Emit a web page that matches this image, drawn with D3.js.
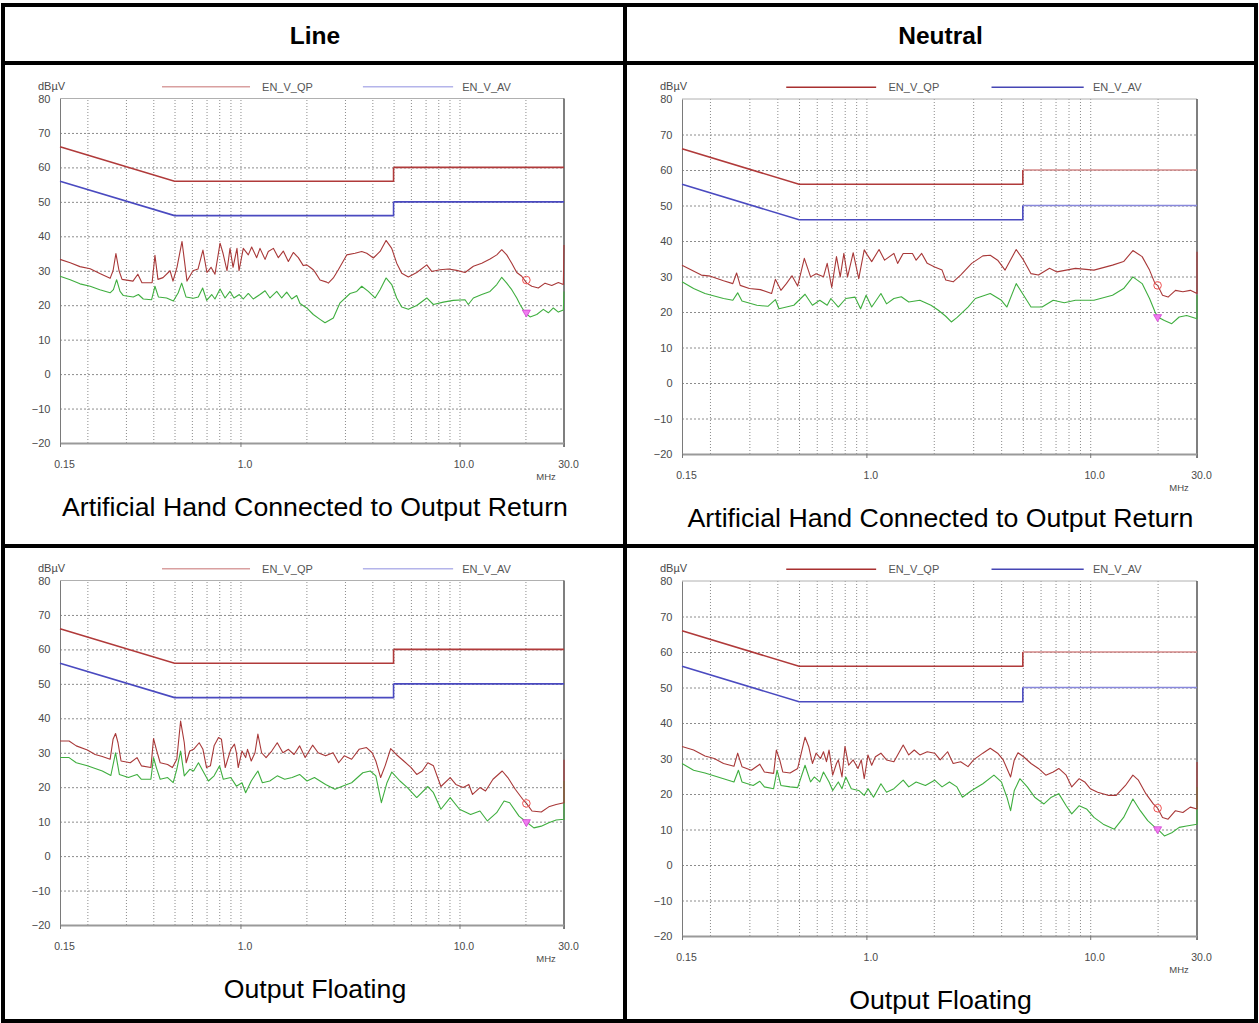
<!DOCTYPE html>
<html>
<head>
<meta charset="utf-8">
<script src="https://cdn.jsdelivr.net/npm/d3@7"></script>
<style>
  body { margin: 0; background: #fff; }
  svg { display: block; }
</style>
</head>
<body>
<svg id="chart" width="1259" height="1023"></svg>
<script>
// ---- column / row text ----
const columnTitles = ["Line", "Neutral"];
const captions = [
  "Artificial Hand Connected to Output Return",
  "Artificial Hand Connected to Output Return",
  "Output Floating",
  "Output Floating"
];
const legendNames = ["EN_V_QP", "EN_V_AV"];
const yUnit = "dBµV";
const xUnit = "MHz";

// ---- axes ----
const freqTicks = [0.15, 1.0, 10.0, 30.0];
const freqTickLabels = ["0.15", "1.0", "10.0", "30.0"];
const freqGrid = [0.2, 0.3, 0.4, 0.5, 0.6, 0.7, 0.8, 0.9, 1, 2, 3, 4, 5, 6, 7, 8, 9, 10, 20];
const levelTicks = [80, 70, 60, 50, 40, 30, 20, 10, 0, -10, -20];
const levelGrid = [70, 60, 50, 40, 30, 20, 10, 0, -10];

// ---- EN 55022 class B limits [MHz, dBµV] ----
const limitQP = [[0.15, 66], [0.5, 56], [5, 56], [5, 60], [30, 60]];
const limitAV = [[0.15, 56], [0.5, 46], [5, 46], [5, 50], [30, 50]];

// ---- Line, artificial hand to output return ----
const lineHandQP = [[0.150,33.3],[0.167,32.3],[0.185,31.2],[0.206,30.6],[0.228,29.2],[0.254,27.8],[0.262,30],[0.270,35],[0.279,30],[0.288,27.5],[0.323,27],[0.340,29],[0.355,26.5],[0.395,26.5],[0.407,34.5],[0.420,27.5],[0.443,28],[0.477,30],[0.492,27],[0.513,31],[0.541,38.5],[0.570,27],[0.607,30],[0.640,30.5],[0.674,36],[0.703,29.5],[0.734,31],[0.765,29],[0.807,38],[0.833,35],[0.868,30],[0.896,36.5],[0.925,31],[0.964,36.5],[0.985,30],[1.030,36.5],[1.086,34.6],[1.125,36.9],[1.186,33.8],[1.228,36.5],[1.295,33.3],[1.340,35.6],[1.413,36.5],[1.489,33.8],[1.569,35.7],[1.654,32.7],[1.743,35.3],[1.837,33.8],[1.936,31.5],[2.007,31.7],[2.078,31],[2.150,30.3],[2.190,29.6],[2.308,27.3],[2.476,26.7],[2.518,26.4],[2.655,27.9],[2.798,30.3],[3.056,34.6],[3.334,35.1],[3.578,35.6],[3.771,35.1],[4.043,33.7],[4.34,35.6],[4.62,38.8],[4.904,36.5],[5.168,32.2],[5.449,29.3],[5.841,28.2],[6.38,29.5],[7.09,31.7],[7.47,29.8],[8.15,30.3],[8.90,30.5],[9.71,30.1],[10.6,29.5],[11.57,31.3],[12.64,32.2],[13.79,33.4],[14.80,34.6],[15.59,36.1],[16.43,34.6],[17.32,32.2],[18.26,29.5],[19.24,28.4],[20.28,26.4],[21.38,25.5],[22.9,25],[24.58,26.4],[26.37,25.7],[28.27,26.6],[29.8,26],[30,37.5]];
const lineHandAV = [[0.150,28.4],[0.167,27.4],[0.185,26.2],[0.206,25.5],[0.228,24.5],[0.254,23.6],[0.263,24.5],[0.272,27.4],[0.282,24],[0.292,22.8],[0.324,22.4],[0.342,23.1],[0.360,21.8],[0.393,21.6],[0.407,25.5],[0.422,22.4],[0.460,22.1],[0.494,21.2],[0.520,23.6],[0.539,26.4],[0.564,22.4],[0.609,22],[0.642,22.4],[0.672,25],[0.701,21.4],[0.739,23.1],[0.765,21.8],[0.807,24.7],[0.850,22.1],[0.896,24],[0.934,22.1],[0.988,23.1],[1.030,21.8],[1.086,23.4],[1.144,21.8],[1.228,23.1],[1.295,24.2],[1.364,22.1],[1.464,24],[1.543,22.1],[1.626,23.8],[1.714,21.8],[1.806,22.8],[1.870,20.5],[2.007,19.2],[2.150,17.3],[2.308,15.9],[2.432,14.9],[2.655,16.3],[2.849,20.7],[3.165,23.4],[3.395,24],[3.578,25.5],[3.835,24],[4.116,22.1],[4.34,24.5],[4.62,27.9],[4.904,26],[5.168,22.1],[5.449,19.5],[5.841,18.8],[6.38,19.9],[7.09,22.1],[7.60,20.2],[8.44,20.9],[9.37,21.4],[10.6,21.6],[10.97,20.2],[11.57,22.1],[12.64,23.1],[13.79,24],[14.80,26],[15.59,28.1],[16.43,26.4],[17.32,24.5],[18.26,22.1],[18.9,20.2],[19.92,17.8],[21.0,16.6],[22.53,17.3],[24.14,18.8],[25.45,17.8],[26.82,19.2],[28.27,18],[29.8,18.6],[30,24]];

// ---- Neutral, artificial hand to output return ----
const neutralHandQP = [[0.150,33.2],[0.183,30.4],[0.201,30.1],[0.230,28.8],[0.253,28],[0.263,31],[0.273,27.5],[0.300,26.6],[0.336,26.3],[0.377,25.2],[0.392,29.2],[0.415,26.1],[0.439,28],[0.465,30.2],[0.493,27.3],[0.528,35.1],[0.563,29.9],[0.596,30.8],[0.643,29.9],[0.668,33.7],[0.700,26.9],[0.735,35.6],[0.764,29.9],[0.793,36.5],[0.824,29.9],[0.873,36.7],[0.924,29.4],[0.978,37.5],[1.009,36.1],[1.056,34.2],[1.139,37.6],[1.206,34.6],[1.327,36.5],[1.379,33.7],[1.460,36.5],[1.606,36.5],[1.668,34.6],[1.766,36.5],[1.870,33.7],[2.018,32.7],[2.178,31.8],[2.262,29],[2.442,28.5],[2.636,30.4],[2.954,33.7],[3.313,35.8],[3.575,36],[3.858,34.6],[4.165,31.8],[4.670,37.6],[5.039,34.6],[5.438,30.8],[5.869,30.4],[6.58,32.3],[7.10,31.3],[8.59,32.3],[10.39,31.8],[12.58,33.2],[14.10,34.2],[15.51,37.3],[17.06,35.6],[18.41,31.8],[19.49,28],[20.02,27.5],[21.04,24.7],[22.28,24.2],[24.04,26.1],[25.95,25.7],[28.01,26.1],[30.0,25.2],[30,37]];
const neutralHandAV = [[0.150,28.5],[0.169,26.6],[0.190,25.2],[0.230,23.8],[0.253,23.3],[0.266,25.4],[0.278,23.1],[0.324,21.9],[0.363,21.6],[0.392,23.5],[0.407,20.9],[0.474,21.9],[0.532,25],[0.574,21.9],[0.619,23.3],[0.668,21.9],[0.694,23.8],[0.749,21.4],[0.809,23.8],[0.889,24.2],[0.942,20.9],[0.997,24.7],[1.056,21.4],[1.161,25.2],[1.230,22.3],[1.327,23.8],[1.432,24.3],[1.546,22.8],[1.733,23.3],[1.943,21.9],[2.097,20.5],[2.262,18.8],[2.396,17.2],[2.537,18.4],[2.844,21.4],[3.069,23.8],[3.575,25.2],[4.009,23.3],[4.245,21.4],[4.670,28],[5.039,24.7],[5.438,21.4],[6.095,21.4],[6.834,23.3],[7.66,22.6],[8.59,23.3],[10.39,23.3],[12.58,24.7],[14.10,26.6],[15.51,29.9],[17.06,28],[18.41,23.8],[19.49,20],[20.02,18.6],[21.45,17.6],[23.14,16.7],[24.98,18.6],[26.96,19],[30.0,18.1],[30,24.7]];

// ---- Line, output floating ----
const lineFloatQP = [[0.150,33.4],[0.165,33.4],[0.178,32],[0.200,30.8],[0.217,29.5],[0.234,28.9],[0.254,28.1],[0.262,33.9],[0.269,35.6],[0.276,32.9],[0.285,27.6],[0.314,27.1],[0.337,28.6],[0.353,26.2],[0.390,25.7],[0.401,34.1],[0.413,31],[0.430,27.1],[0.465,26.6],[0.489,25.7],[0.512,28.1],[0.533,39.2],[0.554,32.9],[0.565,27.1],[0.587,30.5],[0.611,31],[0.648,32.9],[0.674,31],[0.700,25.7],[0.729,26.2],[0.758,32],[0.794,34.4],[0.819,33.9],[0.852,25.7],[0.903,31],[0.939,32.5],[0.958,30],[0.977,25.7],[1.016,30.5],[1.056,28.6],[1.077,31],[1.120,27.6],[1.165,30],[1.201,35.4],[1.249,30],[1.309,28.6],[1.389,30.5],[1.472,32.9],[1.562,30],[1.656,31],[1.756,29.5],[1.862,32],[1.974,28.6],[2.135,32.2],[2.263,30],[2.447,29.1],[2.647,30],[2.807,27.1],[2.976,29.1],[3.218,28.1],[3.479,31],[3.763,31.5],[3.990,30],[4.150,27.6],[4.365,22.8],[4.575,26.2],[4.851,31.2],[5.143,29.5],[5.564,27.6],[6.016,25.7],[6.378,23.7],[6.763,24.7],[7.172,27.1],[7.605,26.2],[8.225,20.2],[9.07,22.8],[9.62,20.8],[10.40,19.9],[11.03,20.8],[11.47,17.9],[12.40,19.9],[13.15,18.9],[14.22,22.3],[15.67,24.7],[16.62,22.8],[17.97,19.4],[19.44,16.5],[20.21,15.3],[21.43,13.1],[23.63,12.8],[25.56,14.3],[27.63,15],[30.0,15.5],[30,28]];
const lineFloatAV = [[0.150,28.6],[0.165,28.6],[0.178,27.1],[0.200,26.2],[0.234,24.7],[0.256,23.4],[0.269,30],[0.280,23.7],[0.308,22.8],[0.337,23.7],[0.353,22.3],[0.390,22.3],[0.401,28.6],[0.413,25.7],[0.430,22.3],[0.465,22.8],[0.493,21.3],[0.512,25.2],[0.533,30.5],[0.554,23.3],[0.587,25.2],[0.611,24.7],[0.643,27.1],[0.674,24.7],[0.714,21.8],[0.758,23.3],[0.803,26.2],[0.835,22.3],[0.903,22.8],[0.958,20.3],[1.016,21.3],[1.056,18.4],[1.120,21.8],[1.201,24.7],[1.259,21.3],[1.361,21.8],[1.472,23.3],[1.592,22.3],[1.722,22.8],[1.862,23.7],[2.013,21.8],[2.177,22.8],[2.447,20.8],[2.700,19.4],[2.976,20.5],[3.218,21.3],[3.619,24.2],[3.914,24.7],[4.150,23.3],[4.399,15.5],[4.666,21.3],[4.908,24.4],[5.350,21.8],[5.785,19.9],[6.378,17],[7.172,20.2],[7.605,18.4],[8.225,13.6],[9.07,17],[10.0,13.6],[11.24,12.1],[12.40,13.1],[13.41,10.2],[14.78,12.6],[15.98,16],[16.95,15.5],[18.69,11.6],[20.21,9.9],[21.85,8.2],[23.63,8.7],[25.56,9.7],[27.63,10.5],[30.0,10.7],[30,21.8]];

// ---- Neutral, output floating ----
const neutralFloatQP = [[0.150,33.4],[0.169,32.4],[0.190,30.7],[0.209,30],[0.230,28.6],[0.256,27.8],[0.266,31.5],[0.278,27.7],[0.306,26.7],[0.334,28.4],[0.350,26.2],[0.385,25.8],[0.396,32.4],[0.410,29.6],[0.423,26.2],[0.456,25.9],[0.493,27.2],[0.532,36],[0.552,33.4],[0.574,28.6],[0.596,31.5],[0.624,30],[0.643,31.9],[0.663,29.1],[0.681,32.4],[0.707,25.3],[0.735,28.6],[0.749,29.6],[0.778,24.8],[0.802,33.4],[0.833,28.1],[0.873,29.6],[0.917,27.2],[0.949,29.6],[0.978,24.3],[1.016,31],[1.056,28.1],[1.097,30.5],[1.161,31.5],[1.230,29.6],[1.327,29.1],[1.460,33.8],[1.546,31],[1.636,32.4],[1.733,31],[1.870,31.9],[2.018,31.5],[2.137,29.6],[2.306,31.9],[2.442,28.6],[2.636,29.1],[2.844,27.7],[3.011,29.6],[3.313,31.5],[3.575,32.9],[3.858,31.5],[4.086,29.6],[4.409,24.8],[4.580,29.6],[4.757,31.6],[5.039,30.5],[5.438,28.6],[5.869,27.2],[6.333,25.3],[6.834,26.2],[7.236,27.2],[7.81,25.3],[8.27,22],[8.93,24.3],[9.45,23.4],[10.0,21.5],[10.8,20.5],[12.11,19.6],[13.07,19.6],[14.37,22.4],[15.51,25.3],[16.42,23.9],[17.73,20.1],[19.13,17.2],[20.02,16],[21.04,13.4],[22.28,12.9],[24.04,15.3],[25.95,14.8],[28.01,16.3],[30.0,15.8],[30,29]];
const neutralFloatAV = [[0.150,28.6],[0.169,26.7],[0.190,25.9],[0.230,24.3],[0.256,23.4],[0.268,26.7],[0.278,23.4],[0.312,22.4],[0.334,23.6],[0.350,22],[0.385,21.5],[0.399,26.7],[0.415,22.4],[0.456,22],[0.493,21.8],[0.532,28.1],[0.563,23.4],[0.585,24.8],[0.619,23.4],[0.643,26.2],[0.681,23.4],[0.707,21],[0.749,23.4],[0.778,21.5],[0.809,24.8],[0.856,21.5],[0.924,21],[0.978,19.6],[1.016,21.5],[1.076,19.1],[1.161,22.9],[1.230,20.5],[1.327,21.5],[1.460,23.9],[1.546,22],[1.668,23.4],[1.835,22.4],[2.018,23.9],[2.178,22],[2.350,23.4],[2.537,22],[2.686,19.1],[2.954,21],[3.313,22.9],[3.714,25.3],[4.009,23.4],[4.245,19.1],[4.409,15.3],[4.580,21],[4.849,24.3],[5.234,22],[5.648,19.1],[6.214,17.2],[6.704,19.1],[7.236,20.1],[7.81,16.7],[8.27,14.4],[8.93,16.7],[9.63,15.8],[10.39,13.4],[11.43,11.5],[12.82,10.1],[14.10,13.4],[15.51,18.6],[16.74,15.3],[18.07,12.5],[19.49,10.6],[20.02,10.1],[21.45,8.2],[23.14,9.1],[24.98,10.6],[26.96,11],[30.0,11.5],[30,22]];

// ---- final markers [MHz, dBµV] ----
const markerQP = [[20.2, 27.3], [20.0, 27.5], [20.2, 15.3], [20.0, 16.0]];
const markerAV = [[20.2, 17.9], [20.0, 18.6], [20.2, 9.9], [20.0, 10.1]];

// ---- page layout ----
const svg = d3.select("#chart");
const FONT = "'Liberation Sans', Arial, Helvetica, sans-serif";

const panels = [
  { x0: 60,  x1: 564,  y0: 98.5, y1: 443, cx: 315,   qp: lineHandQP,     av: lineHandAV,     dark: false },
  { x0: 682, x1: 1197, y0: 99,   y1: 454, cx: 940.5, qp: neutralHandQP,  av: neutralHandAV,  dark: true  },
  { x0: 60,  x1: 564,  y0: 580.5,y1: 925, cx: 315,   qp: lineFloatQP,    av: lineFloatAV,    dark: false },
  { x0: 682, x1: 1197, y0: 581,  y1: 936, cx: 940.5, qp: neutralFloatQP, av: neutralFloatAV, dark: true  }
];

// table frame
const frame = svg.append("g").attr("stroke", "#000").attr("stroke-width", 4);
[[1, 5, 1258, 5], [1, 1021, 1258, 1021], [3, 3, 3, 1023], [1256, 3, 1256, 1023],
 [625, 3, 625, 1023], [1, 63, 1258, 63], [1, 546, 1258, 546]]
  .forEach(([a, b, c, d]) => frame.append("line").attr("x1", a).attr("y1", b).attr("x2", c).attr("y2", d));

// column headings
svg.selectAll("text.head").data(columnTitles).enter().append("text")
  .attr("class", "head")
  .attr("x", (d, i) => i === 0 ? 315 : 940.5)
  .attr("y", 43.5)
  .attr("text-anchor", "middle")
  .attr("font-family", FONT).attr("font-weight", "bold").attr("font-size", 24.5)
  .attr("fill", "#000")
  .text(d => d);

panels.forEach((p, i) => {
  const x = d3.scaleLog().domain([0.15, 30]).range([p.x0, p.x1]);
  const y = d3.scaleLinear().domain([-20, 80]).range([p.y1, p.y0]);
  const w = p.x1 - p.x0, h = p.y1 - p.y0;
  const g = svg.append("g");

  // dotted grid
  g.append("g").attr("transform", `translate(0,${p.y1})`)
    .call(d3.axisBottom(x).tickValues(freqGrid).tickSize(-h).tickFormat(""))
    .call(s => s.select(".domain").remove())
    .selectAll("line").attr("stroke", "#8c8c8c").attr("stroke-dasharray", "1,2");
  g.append("g").attr("transform", `translate(${p.x0},0)`)
    .call(d3.axisLeft(y).tickValues(levelGrid).tickSize(-w).tickFormat(""))
    .call(s => s.select(".domain").remove())
    .selectAll("line").attr("stroke", "#8c8c8c").attr("stroke-dasharray", "2,2");

  // frame of the plot area
  g.append("line").attr("x1", p.x0).attr("x2", p.x1).attr("y1", p.y0).attr("y2", p.y0)
    .attr("stroke", "#b0b0b0");
  g.append("line").attr("x1", p.x1).attr("x2", p.x1).attr("y1", p.y0).attr("y2", p.y1 + 4)
    .attr("stroke", "#555").attr("stroke-width", 1.5);

  // y axis
  const ya = g.append("g").attr("transform", `translate(${p.x0},0)`)
    .call(d3.axisLeft(y).tickValues(levelTicks).tickSize(0).tickSizeOuter(0).tickPadding(9.5));
  ya.select(".domain").attr("stroke", "#7a7a7a");
  ya.selectAll("text").attr("font-family", FONT).attr("font-size", 11).attr("fill", "#4a4a4a");

  // x axis
  const xa = g.append("g").attr("transform", `translate(0,${p.y1})`)
    .call(d3.axisBottom(x).tickValues(freqTicks).tickSize(4).tickSizeOuter(0).tickPadding(14)
      .tickFormat((d, k) => freqTickLabels[k]));
  xa.select(".domain").attr("stroke", "#9a9a9a").attr("stroke-width", 2);
  xa.selectAll("line").attr("stroke", "#777");
  xa.selectAll("text").attr("font-family", FONT).attr("font-size", 10.5).attr("fill", "#4a4a4a").attr("dx", 4);

  // units
  g.append("text").attr("x", p.x0 - 22).attr("y", p.y0 - 9)
    .attr("font-family", FONT).attr("font-size", 11).attr("fill", "#4a4a4a").text(yUnit);
  g.append("text").attr("x", p.x1 - 18).attr("y", p.y1 + 37).attr("text-anchor", "middle")
    .attr("font-family", FONT).attr("font-size", 9.5).attr("fill", "#4a4a4a").text(xUnit);

  // legend
  const legQP = p.dark ? "#a83030" : "#d9a0a0";
  const legAV = p.dark ? "#4646b4" : "#b4b4ea";
  const ly = p.y0 - 11.7;
  [[0.2024, 0.377, 0.401, legQP, legendNames[0]], [0.601, 0.780, 0.798, legAV, legendNames[1]]]
    .forEach(([a, b, t, col, name]) => {
      g.append("line").attr("x1", p.x0 + a * w).attr("x2", p.x0 + b * w)
        .attr("y1", ly).attr("y2", ly).attr("stroke", col).attr("stroke-width", 1.5);
      g.append("text").attr("x", p.x0 + t * w).attr("y", ly + 4)
        .attr("font-family", FONT).attr("font-size", 11).attr("fill", "#555").text(name);
    });

  const line = d3.line().x(d => x(d[0])).y(d => y(d[1]));

  // limit lines: lower band up to the 5 MHz step, upper band beyond it
  const hiQP = p.dark ? "#d48a8a" : "#b03a3a";
  const hiAV = p.dark ? "#8888dc" : "#4a4ac0";
  [[limitQP.slice(0, 4), "#b03a3a"], [limitQP.slice(3), hiQP],
   [limitAV.slice(0, 4), "#4a4ac0"], [limitAV.slice(3), hiAV]]
    .forEach(([pts, col]) => {
      g.append("path").datum(pts).attr("d", line).attr("fill", "none")
        .attr("stroke", col).attr("stroke-width", 1.6);
    });

  // measured traces
  g.append("path").datum(p.av).attr("d", line).attr("fill", "none")
    .attr("stroke", "#3fae3f").attr("stroke-width", 1.1).attr("stroke-linejoin", "round");
  g.append("path").datum(p.qp).attr("d", line).attr("fill", "none")
    .attr("stroke", "#a83838").attr("stroke-width", 1.1).attr("stroke-linejoin", "round");

  // markers
  const mq = markerQP[i], ma = markerAV[i];
  g.append("circle").attr("cx", x(mq[0])).attr("cy", y(mq[1])).attr("r", 3.8)
    .attr("fill", "none").attr("stroke", "#f05050").attr("stroke-width", 1);
  g.append("path").attr("d", d3.symbol(d3.symbolTriangle, 28))
    .attr("transform", `translate(${x(ma[0])},${y(ma[1])}) rotate(180)`)
    .attr("fill", "#f07cf0").attr("stroke", "#d040d0").attr("stroke-width", 0.8);

  // caption
  g.append("text").attr("x", p.cx).attr("y", p.y1 + 73).attr("text-anchor", "middle")
    .attr("font-family", FONT).attr("font-size", 26.7).attr("fill", "#000").text(captions[i]);
});
</script>
</body>
</html>
